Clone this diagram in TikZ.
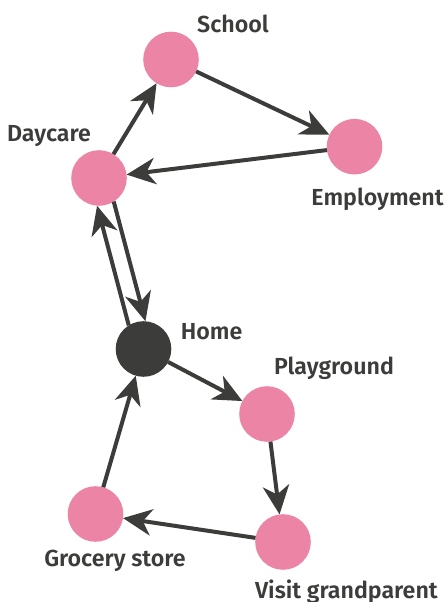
\documentclass[tikz,border=0pt]{standalone}
\usepackage{fontspec}
\setmainfont{Fira Sans}[BoldFont={Fira Sans SemiBold}]
\usetikzlibrary{arrows.meta}
\definecolor{placepink}{HTML}{EC84A6}
\definecolor{darkgrey}{HTML}{3C3C3B}
\begin{document}
\begin{tikzpicture}[place/.style={circle,fill=placepink,minimum size=1.39cm,inner sep=0pt,outer sep=0pt},
  homeplace/.style={place,fill=darkgrey},
  lbl/.style={anchor=base,inner sep=0pt,text=darkgrey,font=\fontsize{16.5}{20}\selectfont\bfseries},
  trip/.style={draw=darkgrey,line width=0.1cm,-{Stealth[length=0.72cm,width=0.66cm,inset=0.22cm]}}]
      \useasboundingbox (0,0) rectangle (11.15,15.05);
      \node[place] (school) at (4.275,13.5625) {};
      \node[place] (employment) at (8.8625,11.3825) {};
      \node[place] (daycare) at (2.475,10.6) {};
      \node[homeplace] (home) at (3.5875,6.325) {};
      \node[place] (playground) at (6.675,4.7) {};
      \node[place] (visit) at (7.075,1.5) {};
      \node[place] (grocery) at (2.3875,2.2) {};
      \node[lbl] (schooltxt) at (5.825,14.24) {School};
      \node[lbl] (employmenttxt) at (9.44,9.9) {Employment};
      \node[lbl] (daycaretxt) at (1.225,11.5) {Daycare};
      \node[lbl] (hometxt) at (5.29,6.55) {Home};
      \node[lbl] (playgroundtxt) at (8.35,5.68) {Playground};
      \node[lbl] (visittxt) at (8.66,0.075) {Visit grandparent};
      \node[lbl] (grocerytxt) at (2.875,0.88) {Grocery store};
      \draw[trip] (daycare) -- (school);
      \draw[trip] (school) -- (employment);
      \draw[trip] (employment) -- (daycare);
      \draw[trip] (home.122) -- (daycare.266.6);
      \draw[trip] (daycare.302) -- (home.86.6);
      \draw[trip] (home) -- (playground);
      \draw[trip] (playground) -- (visit);
      \draw[trip] (visit) -- (grocery);
      \draw[trip] (grocery) -- (home);
\end{tikzpicture}
\end{document}
